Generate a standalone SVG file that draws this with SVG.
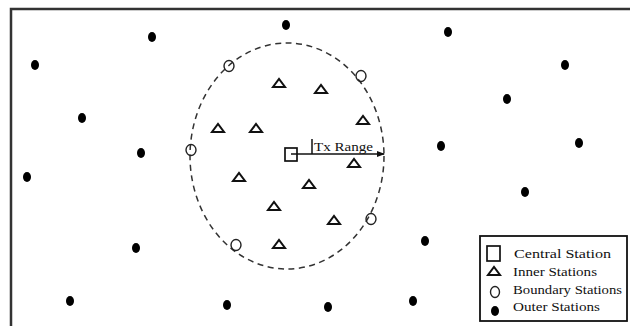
<svg xmlns="http://www.w3.org/2000/svg" width="630" height="326" viewBox="0 0 630 326">
<defs>
<style>
.frame{fill:none;stroke:#333;stroke-width:2.5}
.outer{fill:#000}
.inner{fill:none;stroke:#111;stroke-width:2;stroke-linejoin:miter}
.bound{fill:none;stroke:#222;stroke-width:1.4}
.range{fill:none;stroke:#333;stroke-width:1.5;stroke-dasharray:6 4.5}
.central{fill:none;stroke:#111;stroke-width:1.7}
.lbl{font-family:"Liberation Serif","DejaVu Serif",serif;font-size:13.5px;fill:#111}
.conn{stroke:#111;stroke-width:1.5;fill:none}
</style>
<marker id="ah" markerWidth="8" markerHeight="6" refX="7" refY="3" orient="auto" markerUnits="userSpaceOnUse">
<path d="M0,0 L8,3 L0,6 Z" fill="#111"/>
</marker>
<path id="tri" d="M-6,4 L6,4 L0,-4 Z"/>
</defs>
<rect width="630" height="326" fill="#fff"/>
<rect class="frame" x="11" y="9" width="630" height="330"/>

<g id="range">
<ellipse class="range" cx="287" cy="156" rx="97" ry="113"/>
</g>

<g id="connectors">
<line class="conn" x1="291" y1="154" x2="384" y2="154" marker-end="url(#ah)"/>
<line class="conn" x1="312" y1="139" x2="312" y2="154" stroke-width="1.2"/>
</g>

<g id="central">
<rect class="central" x="285" y="148" width="12" height="13"/>
<text class="lbl" x="314" y="151" textLength="59" lengthAdjust="spacingAndGlyphs">Tx Range</text>
</g>

<g id="inner">
<use href="#tri" class="inner" x="279" y="83"/>
<use href="#tri" class="inner" x="321" y="89"/>
<use href="#tri" class="inner" x="363" y="120"/>
<use href="#tri" class="inner" x="218" y="128"/>
<use href="#tri" class="inner" x="256" y="128"/>
<use href="#tri" class="inner" x="354" y="163"/>
<use href="#tri" class="inner" x="239" y="177"/>
<use href="#tri" class="inner" x="309" y="184"/>
<use href="#tri" class="inner" x="274" y="206"/>
<use href="#tri" class="inner" x="334" y="220"/>
<use href="#tri" class="inner" x="279" y="244"/>
</g>

<g id="boundary">
<ellipse class="bound" cx="229" cy="66" rx="5" ry="5.5"/>
<ellipse class="bound" cx="361" cy="76" rx="5" ry="5.5"/>
<ellipse class="bound" cx="191" cy="150" rx="5" ry="5.5"/>
<ellipse class="bound" cx="371" cy="219" rx="5" ry="5.5"/>
<ellipse class="bound" cx="236" cy="245" rx="5" ry="5.5"/>
</g>

<g id="outer">
<ellipse class="outer" cx="35" cy="65" rx="4" ry="5"/>
<ellipse class="outer" cx="152" cy="37" rx="4" ry="5"/>
<ellipse class="outer" cx="286" cy="25" rx="4" ry="5"/>
<ellipse class="outer" cx="82" cy="118" rx="4" ry="5"/>
<ellipse class="outer" cx="141" cy="153" rx="4" ry="5"/>
<ellipse class="outer" cx="448" cy="32" rx="4" ry="5"/>
<ellipse class="outer" cx="565" cy="65" rx="4" ry="5"/>
<ellipse class="outer" cx="507" cy="99" rx="4" ry="5"/>
<ellipse class="outer" cx="441" cy="146" rx="4" ry="5"/>
<ellipse class="outer" cx="579" cy="143" rx="4" ry="5"/>
<ellipse class="outer" cx="27" cy="177" rx="4" ry="5"/>
<ellipse class="outer" cx="136" cy="248" rx="4" ry="5"/>
<ellipse class="outer" cx="70" cy="301" rx="4" ry="5"/>
<ellipse class="outer" cx="227" cy="305" rx="4" ry="5"/>
<ellipse class="outer" cx="525" cy="192" rx="4" ry="5"/>
<ellipse class="outer" cx="425" cy="241" rx="4" ry="5"/>
<ellipse class="outer" cx="328" cy="307" rx="4" ry="5"/>
<ellipse class="outer" cx="413" cy="301" rx="4" ry="5"/>
</g>

<g id="legend">
<rect x="480" y="236" width="147" height="85" fill="#fff" stroke="#111" stroke-width="1.8"/>
<rect class="central" x="487" y="246" width="13" height="15"/>
<text class="lbl" x="514" y="258" textLength="97" lengthAdjust="spacingAndGlyphs">Central Station</text>
<use href="#tri" class="inner" x="494" y="271"/>
<text class="lbl" x="513" y="276" textLength="84" lengthAdjust="spacingAndGlyphs">Inner Stations</text>
<ellipse class="bound" cx="495" cy="292" rx="4.5" ry="5.5"/>
<text class="lbl" x="513" y="294" textLength="109" lengthAdjust="spacingAndGlyphs">Boundary Stations</text>
<ellipse class="outer" cx="495" cy="311" rx="4" ry="5"/>
<text class="lbl" x="513" y="311" textLength="87" lengthAdjust="spacingAndGlyphs">Outer Stations</text>
</g>
</svg>
